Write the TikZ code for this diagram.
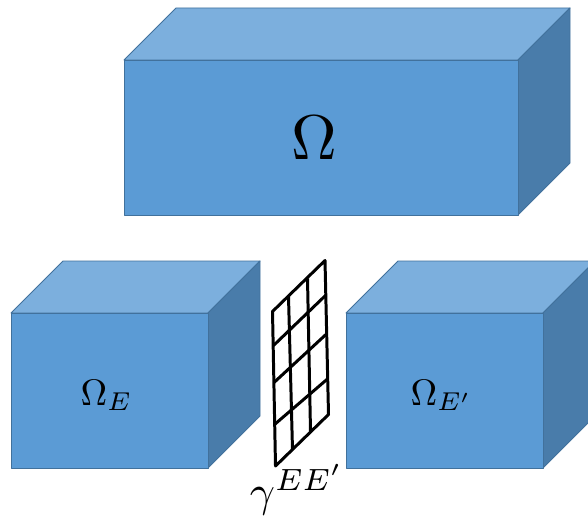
\documentclass[tikz,border=0pt]{standalone}
\usepackage{amsmath,amssymb}
\usepackage{xcolor}
\definecolor{bfront}{RGB}{91,155,213}
\definecolor{btop}{RGB}{124,175,221}
\definecolor{bside}{RGB}{73,124,170}
\definecolor{bedge}{RGB}{65,113,156}

\begin{document}
\begin{tikzpicture}[
    front/.style={draw=bedge, fill=bfront, line width=0.5pt, line join=round},
    roof/.style={draw=bedge, fill=btop, line width=0.5pt, line join=round},
    flank/.style={draw=bedge, fill=bside, line width=0.5pt, line join=round},
    grid_line/.style={draw=black, line width=1.7pt, line join=round},
    big_label/.style={scale=3.6, inner sep=0pt},
    small_label/.style={scale=2.1, inner sep=0pt, anchor=base west}
]
\useasboundingbox (0, 0) rectangle (11.76, 10.36);
\clip (0, 0) rectangle (11.76, 10.36);

% Whole domain (top)
\draw[roof] (2.48, 9.16) -- (3.52, 10.20) -- (11.40, 10.20) -- (10.36, 9.16) -- cycle;
\draw[flank] (10.36, 6.06) -- (11.40, 7.10) -- (11.40, 10.20) -- (10.36, 9.16) -- cycle;
\draw[front] (2.48, 6.06) rectangle (10.36, 9.16);
\node[big_label] (omega) at (6.28, 7.60) {$\Omega$};

% Left subdomain
\draw[roof] (0.22, 4.10) -- (1.26, 5.14) -- (5.20, 5.14) -- (4.16, 4.10) -- cycle;
\draw[flank] (4.16, 1.00) -- (5.20, 2.04) -- (5.20, 5.14) -- (4.16, 4.10) -- cycle;
\draw[front] (0.22, 1.00) rectangle (4.16, 4.10);
\node[small_label] (omegaE) at (1.60, 2.26) {$\Omega_E$};

% Right subdomain
\draw[roof] (6.92, 4.10) -- (7.96, 5.14) -- (11.90, 5.14) -- (10.86, 4.10) -- cycle;
\draw[flank] (10.86, 1.00) -- (11.90, 2.04) -- (11.90, 5.14) -- (10.86, 4.10) -- cycle;
\draw[front] (6.92, 1.00) rectangle (10.86, 4.10);
\node[small_label] (omegaEp) at (8.20, 2.26) {$\Omega_{E'}$};

% Interface mesh
\foreach \xa/\ya/\xb/\yb in {5.47/3.45/6.52/4.46, 5.48/2.71/6.54/3.69, 5.49/1.87/6.56/2.79,
                             5.77/4.43/5.85/1.36, 6.15/4.79/6.21/1.73}
    \draw[grid_line] (\xa, \ya) -- (\xb, \yb);
\draw[grid_line] (5.45, 4.13) -- (6.50, 5.15) -- (6.57, 2.07) -- (5.51, 1.04) -- cycle;
\node[small_label, scale=1.19] (gammaEE) at (4.98, 0.24) {$\gamma^{EE'}$};

\end{tikzpicture}
\end{document}
